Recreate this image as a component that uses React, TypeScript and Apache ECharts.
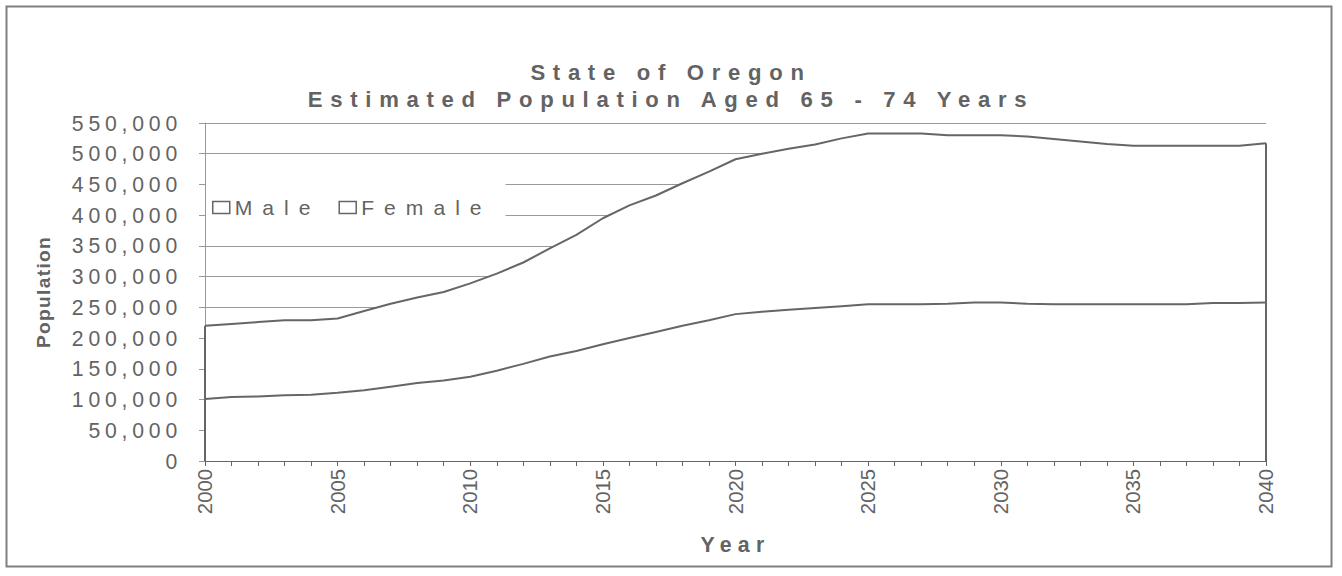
import React, { useEffect, useRef } from 'react';
import * as echarts from 'echarts';

const years = [
  '2000', '2001', '2002', '2003', '2004', '2005', '2006', '2007', '2008', '2009',
  '2010', '2011', '2012', '2013', '2014', '2015', '2016', '2017', '2018', '2019',
  '2020', '2021', '2022', '2023', '2024', '2025', '2026', '2027', '2028', '2029',
  '2030', '2031', '2032', '2033', '2034', '2035', '2036', '2037', '2038', '2039', '2040',
];

const male = [
  101000, 104000, 105000, 107000, 108000, 111000, 115000, 121000, 127000, 131000,
  137000, 147000, 158000, 170000, 179000, 190000, 200000, 210000, 220000, 229000,
  239000, 243000, 246000, 249000, 252000, 255000, 255000, 255000, 256000, 258000,
  258000, 256000, 255000, 255000, 255000, 255000, 255000, 255000, 257000, 257000, 258000,
];

const female = [
  119000, 119000, 121000, 122000, 121000, 121000, 129000, 135000, 139000, 144000,
  152000, 158000, 165000, 176000, 189000, 205000, 216000, 222000, 232000, 242000,
  252000, 257000, 262000, 266000, 273000, 278000, 278000, 278000, 274000, 272000,
  272000, 272000, 269000, 265000, 261000, 258000, 258000, 258000, 256000, 256000, 259000,
];

const titleLines = ['State of Oregon', 'Estimated Population Aged 65 - 74 Years'];
const seriesNames = ['Male', 'Female'];
const xAxisTitle = 'Year';
const yAxisTitle = 'Population';
const noteText = 'Oregon Office of Economic Analysis - DRAFT';

const FONT = "'Liberation Sans', Arial, sans-serif";
const TEXT = '#636363';

const css = `
text[style*="22.1px"]{letter-spacing:7.7px}
text[style*="21.2px"]{letter-spacing:4.8px}
text[style*="20.3px"]{letter-spacing:0px}
text[style*="21.3px"]{letter-spacing:6.2px}
text[style*="19.2px"]{letter-spacing:1.3px}
text[style*="20.4px"]{letter-spacing:5.3px}
text[style*="21.1px"]{letter-spacing:10px}
`;

export default function App() {
  const ref = useRef<HTMLDivElement>(null);

  useEffect(() => {
    if (!ref.current) return;
    const chart = echarts.init(ref.current, undefined, { renderer: 'svg' });
    const last = years.length - 1;
    const option: any = {
      animation: false,
      backgroundColor: '#ffffff',
      title: {
        text: titleLines.join('\n'),
        left: 'center',
        top: 54,
        textStyle: {
          fontSize: 22.1,
          fontWeight: 'bold',
          color: TEXT,
          lineHeight: 27,
          fontFamily: FONT,
        },
      },
      legend: {
        data: seriesNames,
        left: 206,
        top: 180,
        orient: 'horizontal',
        icon: 'rect',
        itemWidth: 17,
        itemHeight: 12,
        itemGap: 58,
        padding: [17, 74, 9, 6],
        backgroundColor: '#ffffff',
        selectedMode: false,
        textStyle: { fontSize: 21.1, color: TEXT, fontFamily: FONT },
        itemStyle: { color: '#ffffff', borderColor: '#666666', borderWidth: 1.5 },
      },
      grid: { left: 205, right: 76, top: 123, bottom: 115, containLabel: false },
      xAxis: {
        type: 'category',
        data: years,
        boundaryGap: false,
        name: xAxisTitle,
        nameLocation: 'middle',
        nameGap: 73,
        nameTextStyle: { fontSize: 21.3, fontWeight: 'bold', color: TEXT, fontFamily: FONT },
        axisLine: { show: true, lineStyle: { color: '#666666', width: 2 } },
        axisTick: { show: true, interval: 0, length: 5, lineStyle: { color: '#666666', width: 1 } },
        axisLabel: { interval: 4, rotate: 90, fontSize: 20.3, color: TEXT, fontFamily: FONT, margin: 8 },
        splitLine: { show: false },
      },
      yAxis: {
        type: 'value',
        min: 0,
        max: 550000,
        interval: 50000,
        name: yAxisTitle,
        nameLocation: 'middle',
        nameGap: 152,
        nameTextStyle: { fontSize: 19.2, fontWeight: 'bold', color: TEXT, fontFamily: FONT },
        axisLine: { show: true, lineStyle: { color: '#999999', width: 1 } },
        axisTick: { show: true, length: 6, lineStyle: { color: '#999999', width: 1 } },
        axisLabel: {
          fontSize: 21.2,
          color: TEXT,
          fontFamily: FONT,
          margin: 23,
          formatter: (v: number) => v.toLocaleString('en-US'),
        },
        splitLine: { show: true, lineStyle: { color: '#999999', width: 1 } },
      },
      graphic: [
        {
          type: 'rect',
          shape: { x: 6.5, y: 6.5, width: 1325, height: 560 },
          style: { fill: 'none', stroke: '#808080', lineWidth: 2 },
          silent: true,
        },
        {
          type: 'text',
          left: 591,
          top: 420,
          style: { text: noteText, fontSize: 20.4, fill: TEXT, fontFamily: FONT },
          silent: true,
        },
      ],
      series: [
        {
          name: seriesNames[0],
          type: 'line',
          stack: 'total',
          data: male,
          symbol: 'none',
          silent: true,
          itemStyle: { color: '#ffffff' },
          lineStyle: { color: '#666666', width: 2 },
          areaStyle: { color: '#ffffff', opacity: 1 },
        },
        {
          name: seriesNames[1],
          type: 'line',
          stack: 'total',
          data: female,
          symbol: 'none',
          silent: true,
          itemStyle: { color: '#ffffff' },
          lineStyle: { color: '#666666', width: 2 },
          areaStyle: { color: '#ffffff', opacity: 1 },
          markLine: {
            silent: true,
            symbol: 'none',
            label: { show: false },
            lineStyle: { color: '#666666', width: 2, type: 'solid' },
            data: [
              [{ coord: [years[0], 0] }, { coord: [years[0], male[0] + female[0]] }],
              [{ coord: [years[last], 0] }, { coord: [years[last], male[last] + female[last]] }],
            ],
          },
        },
      ],
    };
    chart.setOption(option);
    return () => chart.dispose();
  }, []);

  return (
    <>
      <style>{css}</style>
      <div
        ref={ref}
        style={{ position: 'fixed', left: 0, top: 0, width: 1342, height: 576 }}
      />
    </>
  );
}
